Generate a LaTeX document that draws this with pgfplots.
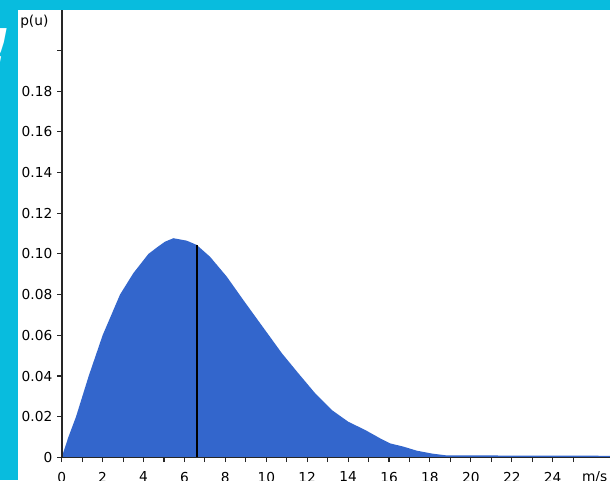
\documentclass[border=0pt]{standalone}
\usepackage{pgfplots}
\pgfplotsset{compat=1.18}
\usepackage{fontspec}
\setmainfont{DejaVu Sans}
\definecolor{frame}{RGB}{8,188,222}
\definecolor{fillblue}{RGB}{51,102,204}
\begin{document}
\begin{tikzpicture}[x=0.75pt,y=0.75pt]
\useasboundingbox (0,0) rectangle (610,480);
\clip (0,0) rectangle (610,480);
\fill[frame] (0,0) rectangle (610,480);
\fill[white] (18,0) rectangle (610,470);
\node[anchor=north east, text=white, font=\fontsize{38}{38}\selectfont\bfseries\itshape, inner sep=0pt] at (11,452) {!};
\node[anchor=base west, inner sep=0pt, font=\fontsize{10.3}{12}\selectfont] at (20,455) {p(u)};
\begin{axis}[
  at={(46.275pt,16.95pt)}, anchor=south west,
  scale only axis, width=411.2pt, height=335.8pt,
  xmin=0, xmax=26.8, ymin=0, ymax=0.22,
  axis lines=left,
  every inner x axis line/.append style={-},
  every inner y axis line/.append style={-},
  every outer x axis line/.append style={-},
  every outer y axis line/.append style={-},
  axis line style={line width=1.3pt, draw=black!85},
  tick align=outside,
  major tick length=3.5pt, minor tick length=3.5pt,
  tick style={line width=0.8pt, black!85},
  xtick={0,2,4,6,8,10,12,14,16,18,20,22,24},
  xticklabels={0,2,4,6,8,10,12,14,16,18,20,22,24},
  minor xtick={1,3,5,7,9,11,13,15,17,19,21,23,25},
  ytick={0,0.02,0.04,0.06,0.08,0.10,0.12,0.14,0.16,0.18,0.20},
  yticklabels={0,0.02,0.04,0.06,0.08,0.10,0.12,0.14,0.16,0.18,{}},
  extra x ticks={26.05},
  extra x tick labels={m/s},
  extra x tick style={major tick style={draw=none}},
  ticklabel style={font=\fontsize{10.3}{12}\selectfont},
  xticklabel style={yshift=-3.9pt},
  /pgf/number format/assume math mode=true,
  axis on top,
]
\addplot[fill=fillblue, draw=none] coordinates {
(0,0) (0.32,0.0098) (0.70,0.020) (1.32,0.040) (2.0,0.060) (2.85,0.080)
(3.5,0.0905) (4.24,0.100) (4.7,0.1035) (5.05,0.1060) (5.46,0.1077) (6.11,0.1065)
(6.6,0.1044) (7.25,0.0986) (8.07,0.0888) (8.88,0.0773) (9.70,0.0659)
(10.2,0.0590) (10.76,0.0512) (11.57,0.0413) (12.39,0.0315) (13.2,0.0233)
(14.01,0.0175) (14.83,0.0135) (15.56,0.0094) (16.05,0.0069) (16.7,0.0053)
(17.36,0.0033) (18.09,0.0019) (18.8,0.0010) (26.8,0.0008)
} \closedcycle;
\addplot[black, line width=1.5pt] coordinates {(6.6,0) (6.6,0.1044)};
\end{axis}
\end{tikzpicture}
\end{document}
